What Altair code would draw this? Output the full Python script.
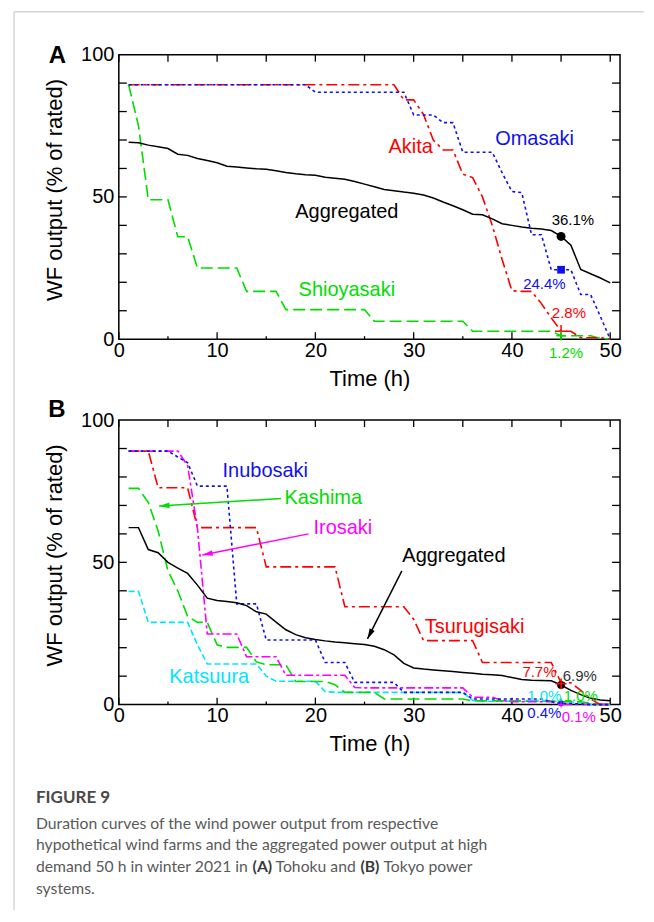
import math
import altair as alt
import pandas as pd

# ---------------- data ----------------
hours = list(range(1, 51))

# Panel A (Tohoku)
a_aggregated = [69.2, 69.0, 68.2, 67.6, 67.0, 65.0, 64.6, 63.5, 62.8, 62.0,
                60.8, 60.5, 60.2, 59.9, 59.7, 59.2, 58.6, 58.1, 57.8, 57.6,
                56.9, 56.6, 56.2, 55.4, 54.5, 53.6, 52.6, 52.2, 51.7, 51.3,
                50.7, 49.6, 48.2, 46.9, 45.5, 43.9, 43.7, 42.3, 40.6, 40.0,
                39.4, 39.0, 38.7, 38.2, 36.1, 33.0, 24.5, 23.0, 21.5, 19.8]
a_omasaki = ([89.4] * 19 + [86.8] * 10 + [78.8] * 3 + [76.1] * 2 + [65.7] * 4 +
             [58.5, 51.9, 51.5, 36.7, 36.7, 24.4, 24.4, 24.4, 15.7, 15.7, 8.0, 0.0])
a_akita = ([89.4] * 28 +
           [84.1, 84.1, 79.0, 70.0, 66.5, 66.5, 58.0, 56.8, 50.0, 40.0, 28.0,
            17.0, 16.8, 16.8, 12.5, 7.5, 2.8, 2.8, 0.5, 0.5, 0.5, 0.0])
a_shioyasaki = ([89.4, 75.0, 49.0, 49.0, 49.0, 36.0, 36.0] + [25.0] * 5 + [16.8] * 4 +
                [10.4] * 9 + [6.3] * 10 + [2.8] * 9 + [1.2] * 4 + [0.3, 0.0])

# Panel B (Tokyo)
b_aggregated = [62.2, 62.2, 54.5, 53.4, 50.0, 48.0, 46.1, 42.0, 37.4, 36.6,
                36.2, 35.8, 34.8, 32.6, 31.8, 29.0, 26.3, 24.6, 23.5, 22.9,
                22.4, 22.0, 21.7, 21.4, 21.1, 20.5, 19.3, 17.5, 14.5, 12.9,
                12.5, 12.2, 11.9, 11.6, 11.3, 11.0, 10.7, 10.5, 10.2, 9.5,
                8.8, 8.6, 8.5, 8.4, 6.9, 5.0, 3.5, 2.2, 1.6, 1.4]
b_inubosaki = ([89.1] * 5 + [87.0, 85.0] + [76.8] * 4 + [35.4] * 3 + [22.7] * 6 +
               [14.8] * 3 + [7.8] * 5 + [4.3] * 7 + [2.0] * 8 + [1.0, 0.4, 0.4, 0.2] + [0.0] * 3)
b_irosaki = ([89.1] * 6 + [84.0, 62.0] + [24.8] * 4 + [16.8] * 4 + [10.3] * 7 + [6.0] +
             [5.9] * 11 + [2.6] * 3 + [1.5] + [1.0] * 5 + [0.1] * 6)
b_tsurugisaki = ([89.1] * 3 + [76.2] * 4 + [62.2] * 7 + [48.4] * 8 + [34.4] * 7 + [30.0] +
                 [22.5] * 6 + [14.8] * 8 + [7.7] * 2 + [5.0, 2.0, 0.0, 0.0])
b_kashima = ([76.0, 76.0, 71.0, 61.0, 47.0, 40.0, 31.0, 28.9, 28.9, 21.0] + [20.1] * 3 +
             [15.0] + [14.0] * 3 + [8.1] * 4 + [7.0] + [4.3] * 4 + [2.0] * 9 + [1.3] * 9 +
             [1.0] * 3 + [0.5, 0.0, 0.0])
b_katsuura = ([39.8] * 2 + [28.9] * 5 + [21.0] + [14.3] * 6 + [10.0] + [8.2] * 5 + [4.6] +
              [4.3] * 14 + [1.5] + [1.2] * 8 + [1.0] * 2 + [0.5] + [0.0] * 3)

x_ticks = list(range(0, 51, 5))
y_ticks = list(range(10, 100, 10))
x_labels = [0, 10, 20, 30, 40, 50]
y_labels = [0, 50, 100]

# ---------------- styling ----------------
FONT = "Liberation Sans"
W, H = 502, 285
RED, BLUE, GREEN, MAGENTA, CYAN = "#ff0000", "#1010ee", "#00dd00", "#ff00ff", "#00e5ff"
PLUS = "M-1,0L1,0M0,-1L0,1"
ARROW = "M0,0L-0.7,2.6L0.7,2.6Z"

xs = alt.Scale(domain=[0, 51], nice=False, zero=False)
ys = alt.Scale(domain=[0, 100], nice=False, zero=False)
x_axis = alt.Axis(values=x_labels, ticks=False, domain=False, grid=False, labelFlush=False,
                  labelFont=FONT, labelFontSize=20, labelColor="black", labelPadding=1,
                  title="Time (h)", titleFont=FONT, titleFontSize=22, titleFontWeight="normal",
                  titleColor="black", titlePadding=8)
y_axis = alt.Axis(values=y_labels, ticks=False, domain=False, grid=False, labelFlush=False,
                  labelFont=FONT, labelFontSize=20, labelColor="black", labelPadding=5,
                  title="WF output (% of rated)", titleFont=FONT, titleFontSize=22,
                  titleFontWeight="normal", titleColor="black", titlePadding=14, titleY=135)


def X(field="t"):
    return alt.X(f"{field}:Q", scale=xs, axis=x_axis)


def Y(field="v"):
    return alt.Y(f"{field}:Q", scale=ys, axis=y_axis)


dummy = pd.DataFrame({"d": [0]})


def series(values, color, dash, width=1.6):
    df = pd.DataFrame({"t": hours, "v": values})
    kw = {"strokeDash": dash} if dash else {}
    return alt.Chart(df).mark_line(color=color, strokeWidth=width, **kw).encode(x=X(), y=Y())


def note(text, t, v, color, size, **kw):
    df = pd.DataFrame({"t": [t], "v": [v], "s": [text]})
    return alt.Chart(df).mark_text(color=color, fontSize=size, font=FONT, **kw).encode(
        x=X(), y=Y(), text="s:N")


def marker(t, v, color, shape, size, filled=True, width=1.5):
    df = pd.DataFrame({"t": [t], "v": [v]})
    return alt.Chart(df).mark_point(shape=shape, size=size, filled=filled, color=color,
                                    strokeWidth=width, opacity=1).encode(x=X(), y=Y())


def arrow(t1, v1, t2, v2, color):
    df = pd.DataFrame({"t": [t1], "v": [v1], "t2": [t2], "v2": [v2]})
    line = alt.Chart(df).mark_rule(color=color, strokeWidth=1.5).encode(
        x=X(), y=Y(), x2="t2:Q", y2="v2:Q")
    dx = (t2 - t1) * W / 51
    dy = -(v2 - v1) * H / 100
    ang = math.degrees(math.atan2(dx, -dy)) % 360
    head_df = pd.DataFrame({"t": [t2], "v": [v2]})
    head = alt.Chart(head_df).mark_point(shape=ARROW, size=64, filled=True, color=color,
                                         angle=ang, opacity=1).encode(x=X(), y=Y())
    return [line, head]


def free_text(text, px, py, size, color="black", weight="normal", font=FONT,
              align="left", baseline="alphabetic"):
    return alt.Chart(dummy).mark_text(text=text, fontSize=size, color=color, fontWeight=weight,
                                      font=font, align=align, baseline=baseline).encode(
        x=alt.value(px), y=alt.value(py))


def frame_ticks():
    xt = pd.DataFrame({"t": x_ticks})
    xmaj = xt[xt.t % 10 == 0]
    xmin = xt[xt.t % 10 != 0]
    yt = pd.DataFrame({"v": y_ticks})
    rk = dict(color="black", strokeWidth=1.3)
    return [
        alt.Chart(xmaj).mark_rule(**rk).encode(x=X(), y=alt.value(H), y2=alt.value(H - 7)),
        alt.Chart(xmin).mark_rule(**rk).encode(x=X(), y=alt.value(H), y2=alt.value(H - 3)),
        alt.Chart(xt).mark_rule(**rk).encode(x=X(), y=alt.value(0), y2=alt.value(7)),
        alt.Chart(yt).mark_rule(**rk).encode(y=Y(), x=alt.value(0), x2=alt.value(8)),
        alt.Chart(yt).mark_rule(**rk).encode(y=Y(), x=alt.value(W), x2=alt.value(W - 8)),
    ]


def page_rule(x1, x2, y1, y2):
    return alt.Chart(dummy).mark_rule(color="#d6d6d6", strokeWidth=1.5).encode(
        x=alt.value(x1), x2=alt.value(x2), y=alt.value(y1), y2=alt.value(y2))


# ---------------- panel A ----------------
layers_a = frame_ticks() + [
    page_rule(-105, 526, -43, -43),
    page_rule(-105, -105, -43, 366),
    series(a_shioyasaki, GREEN, [12, 5]),
    series(a_akita, RED, [11, 4, 3, 4]),
    series(a_omasaki, BLUE, [3, 3]),
    series(a_aggregated, "black", None, 1.5),
    marker(45, 36.1, "black", "circle", 80),
    marker(45, 24.4, BLUE, "square", 60),
    marker(45, 2.8, RED, PLUS, 150, filled=False, width=1.5),
    marker(45, 1.2, GREEN, PLUS, 90, filled=False, width=1.5),
    note("Akita", 29.7, 67.4, RED, 20),
    note("Omasaki", 42.3, 70.2, BLUE, 20),
    note("Aggregated", 23.2, 44.7, "black", 20),
    note("Shioyasaki", 23.2, 17.2, GREEN, 20),
    note("36.1%", 46.2, 41.8, "black", 15),
    note("24.4%", 43.3, 19.3, BLUE, 15),
    note("2.8%", 45.8, 9.2, RED, 15),
    note("1.2%", 45.5, -4.8, GREEN, 15),
    free_text("A", -61.5, 1.5, 24, weight="bold", align="center", baseline="middle"),
]
panel_a = alt.layer(*layers_a).properties(width=W, height=H)

# ---------------- panel B ----------------
cap_color = "#5a5a5a"
CAP = "Lato"
CS = 15.75
layers_b = frame_ticks() + [
    page_rule(-105, -105, 0, 491),
    series(b_katsuura, CYAN, [6, 3]),
    series(b_kashima, GREEN, [12, 5]),
    series(b_tsurugisaki, RED, [11, 4, 3, 4]),
    series(b_irosaki, MAGENTA, [9, 3, 3, 3]),
    series(b_inubosaki, BLUE, [3, 3]),
    series(b_aggregated, "black", None, 1.5),
    marker(45, 6.9, "black", "circle", 60),
    marker(45, 7.3, RED, PLUS, 120, filled=False, width=1.5),
    marker(45, 1.0, CYAN, "circle", 20),
    marker(45, 1.0, GREEN, PLUS, 50, filled=False, width=1.2),
    marker(45, 0.4, BLUE, "square", 20),
    marker(45, 0.1, MAGENTA, PLUS, 40, filled=False, width=1.2),
    *arrow(16.5, 72.4, 4.1, 69.8, GREEN),
    *arrow(19.3, 60.0, 8.5, 52.6, MAGENTA),
    *arrow(28.8, 47.0, 25.3, 23.1, "black"),
    note("Inubosaki", 14.9, 82.1, BLUE, 20),
    note("Kashima", 20.8, 72.6, GREEN, 20),
    note("Irosaki", 22.8, 62.1, MAGENTA, 20),
    note("Aggregated", 34.1, 52.3, "black", 20),
    note("Tsurugisaki", 36.2, 27.1, RED, 20),
    note("Katsuura", 9.2, 9.6, CYAN, 20),
    note("7.7%", 42.8, 11.3, RED, 15),
    note("6.9%", 46.9, 10.2, "#333333", 15),
    note("1.0%", 43.3, 3.2, CYAN, 15),
    note("1.0%", 47.0, 3.2, GREEN, 15),
    note("0.4%", 43.3, -3.1, BLUE, 15),
    note("0.1%", 46.8, -4.2, MAGENTA, 15),
    free_text("B", -62, -10.5, 24, weight="bold", align="center", baseline="middle"),
    free_text("FIGURE 9", -83, 383.7, 17, color="#4a4a4a", weight="bold", font=CAP),
    free_text("Duration curves of the wind power output from respective", -83, 409.3, CS, cap_color, font=CAP),
    free_text("hypothetical wind farms and the aggregated power output at high", -83, 431, CS, cap_color, font=CAP),
    free_text("demand 50 h in winter 2021 in", -83, 453, CS, cap_color, font=CAP),
    free_text("(A)", 134, 453, CS, "#3a3a3a", weight="bold", font=CAP),
    free_text("Tohoku and", 157, 453, CS, cap_color, font=CAP),
    free_text("(B)", 242, 453, CS, "#3a3a3a", weight="bold", font=CAP),
    free_text("Tokyo power", 265, 453, CS, cap_color, font=CAP),
    free_text("systems.", -83, 474.5, CS, cap_color, font=CAP),
]
panel_b = alt.layer(*layers_b).properties(width=W, height=H)

chart = alt.vconcat(panel_a, panel_b, spacing=81, bounds="flush").properties(
    padding={"left": 4, "top": 1, "right": 0, "bottom": 0}
).configure_view(stroke="black", strokeWidth=1.5)

chart.save("out.html", embed_options={"renderer": "svg", "actions": False})
